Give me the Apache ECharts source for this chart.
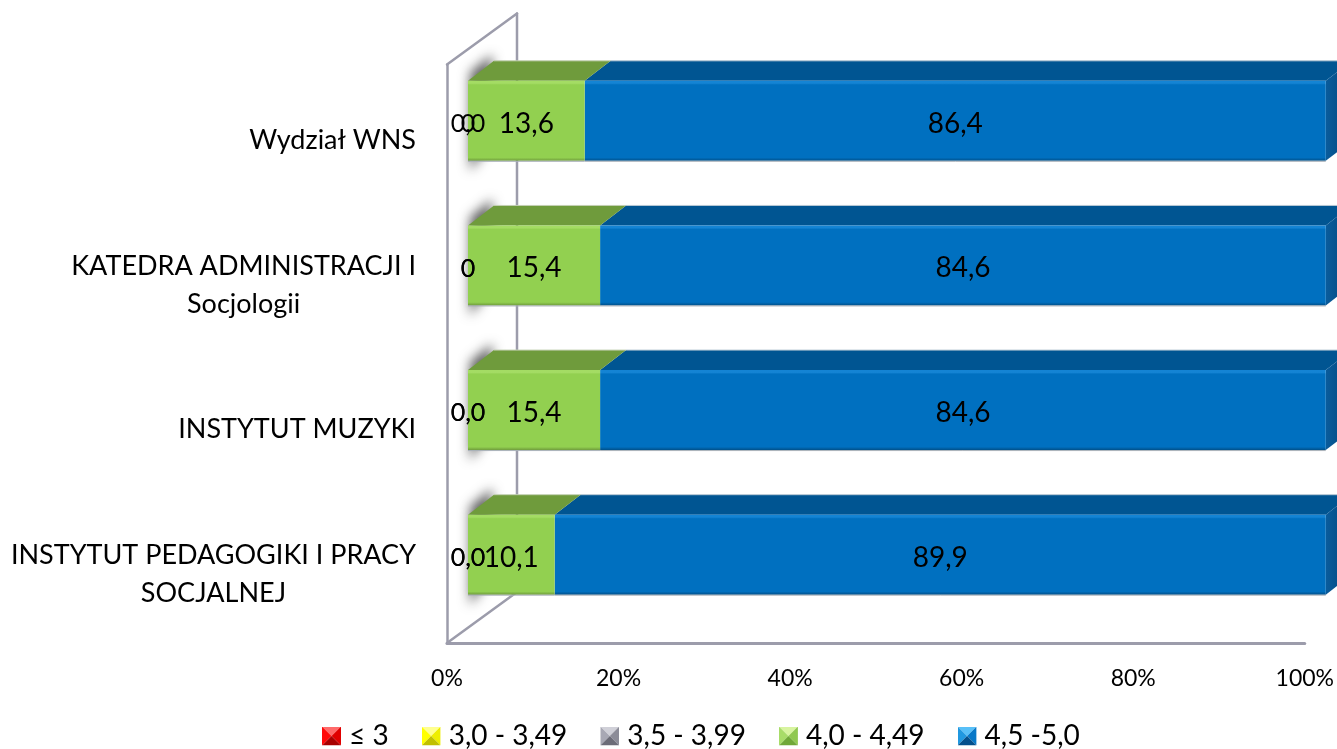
<!DOCTYPE html>
<html><head><meta charset="utf-8">
<style>html,body{margin:0;padding:0;background:#fff}#c{width:1337px;height:749px}</style>
<script src="https://cdn.jsdelivr.net/npm/echarts@6/dist/echarts.min.js"></script>
</head><body><div id="c"></div>
<script>
const categories = ['INSTYTUT PEDAGOGIKI I PRACY\nSOCJALNEJ','INSTYTUT MUZYKI','KATEDRA ADMINISTRACJI I\nSocjologii','Wydział WNS'];
const seriesNames = ['≤ 3','3,0 - 3,49','3,5 - 3,99','4,0 - 4,49','4,5 -5,0'];
const red    = [0,0,0,0];
const yellow = [0,0,0,0];
const gray   = [0,0,0,0];
const green  = [10.1,15.4,15.4,13.6];
const blue   = [89.9,84.6,84.6,86.4];
const redLabels    = ['0,0','0,0','0','0,0'];
const yellowLabels = ['0,0','0,0','0','0'];
const grayLabels   = ['','','',''];
const greenLabels  = ['10,1','15,4','15,4','13,6'];
const blueLabels   = ['89,9','84,6','84,6','86,4'];
const xTicks = [0,20,40,60,80,100];

const allValues=[red,yellow,gray,green,blue];
const allLabels=[redLabels,yellowLabels,grayLabels,greenLabels,blueLabels];
const FONT='Lato, Carlito, sans-serif';
const LINE='#9c9cab';
const F={dx:21,dy:-16};
const D={dx:26,dy:-20};
const WALL={dx:70,dy:-51};
const BAR=80;
const OFF=3000;
const palettes=[
 {front:'#e8101c',hi:'#f04a50',lo:'#a80d12',top:'#ab0c12',side:'#8c090d',icon:['#ff6a6a','#ff0808','#e00000','#a80000']},
 {front:'#ffff00',hi:'#ffff70',lo:'#cccc00',top:'#bcbc00',side:'#a8a800',icon:['#ffff90','#ffff00','#eeee00','#c0c000']},
 {front:'#8e8e9c',hi:'#a8a8b4',lo:'#6a6a78',top:'#6c6c78',side:'#5c5c68',icon:['#d0d0d8','#a8a8b4','#8c8c98','#6c6c78']},
 {front:'#92d050',hi:'#a4dc64',lo:'#6f9b3c',top:'#6f9b3c',side:'#5f8a32',icon:['#d8f4a0','#a8dc68','#90c850','#70a838']},
 {front:'#0070c0',hi:'#1484d4',lo:'#004f88',top:'#005592',side:'#00467c',icon:['#58c0f8','#2098e0','#0878c8','#04508c']}
];
function iconUri(c){
 const svg=`<svg xmlns="http://www.w3.org/2000/svg" width="19" height="19"><polygon points="0,0 19,0 9.5,9.5" fill="${c[0]}"/><polygon points="0,0 0,19 9.5,9.5" fill="${c[1]}"/><polygon points="19,0 19,19 9.5,9.5" fill="${c[2]}"/><polygon points="0,19 19,19 9.5,9.5" fill="${c[3]}"/></svg>`;
 return 'image://data:image/svg+xml;charset=utf-8,'+encodeURIComponent(svg);
}
function frontFill(p){
 return {type:'linear',x:0,y:0,x2:0,y2:1,colorStops:[
  {offset:0,color:p.hi},{offset:.03,color:p.hi},{offset:.05,color:p.front},
  {offset:.96,color:p.front},{offset:1,color:p.lo}]};
}
function barRender(si){
 return function(params,api){
  const c=api.value(1), v=api.value(0), s=api.value(2);
  const a=api.coord([s,c]), b=api.coord([s+v,c]);
  const x0=a[0]+F.dx, x1=b[0]+F.dx, cy=a[1]+F.dy, t=cy-BAR/2, bt=cy+BAR/2;
  const p=palettes[si], children=[];
  if(v>0){
   children.push({type:'polygon',shape:{points:[[x0,t],[x0+D.dx,t+D.dy],[x1+D.dx,t+D.dy],[x1,t]]},style:{fill:p.top}});
   if(si===4){
    children.push({type:'line',shape:{x1:x0+D.dx,y1:t+D.dy,x2:x1+D.dx,y2:t+D.dy},style:{stroke:'#b8c8d4',lineWidth:1}});
    children.push({type:'polygon',shape:{points:[[x1,t],[x1+D.dx,t+D.dy],[x1+D.dx,bt+D.dy],[x1,bt]]},
      style:{fill:{type:'linear',x:0,y:0,x2:1,y2:0,colorStops:[{offset:0,color:'#0a5c9c'},{offset:1,color:p.side}]}}});
   } else {
    children.push({type:'line',shape:{x1:x0+D.dx,y1:t+D.dy,x2:x1+D.dx,y2:t+D.dy},style:{stroke:'#c4d0b4',lineWidth:1}});
   }
   children.push({type:'rect',shape:{x:x0,y:t,width:x1-x0,height:BAR},style:{fill:frontFill(p)}});
   children.push({type:'line',shape:{x1:x0,y1:bt+.5,x2:x1,y2:bt+.5},style:{stroke:'#a8b0b8',lineWidth:1}});
  }
  const txt=allLabels[si][params.dataIndex];
  if(txt){
   children.push({type:'text',z2:50,style:{text:txt,x:(x0+x1)/2,y:cy+3,align:'center',verticalAlign:'middle',
     font:(v>0?'28px ':'25px ')+FONT,fill:'#000'}});
  }
  return {type:'group',children};
 };
}
function frameRender(params,api){
 const g=params.coordSys, c=api.value(0);
 const L=g.x, T=g.y, B=g.y+g.height;
 const children=[];
 if(params.dataIndex===0){
  const ln=(x1,y1,x2,y2)=>({type:'line',shape:{x1,y1,x2,y2},style:{stroke:LINE,lineWidth:2.5,lineCap:'round'}});
  children.push(ln(L,T,L+WALL.dx,T+WALL.dy));
  children.push(ln(L+WALL.dx,T+WALL.dy,L+WALL.dx,B+WALL.dy));
  children.push(ln(L,B,L+WALL.dx,B+WALL.dy));
 }
 const cy=api.coord([0,c])[1]+F.dy, t=cy-BAR/2, bt=cy+BAR/2, x=L+F.dx-OFF;
 // drawn off-canvas so only the soft, blurred shadow lands on the wall
 children.push({type:'polygon',shape:{points:[[x+2,t-8],[x+24,t-26],[x+24,bt-20],[x+2,bt+10]]},
   style:{fill:'#000',shadowBlur:12,shadowOffsetX:OFF,shadowColor:'rgba(85,85,85,.95)'}});
 return {type:'group',children};
}
const series=[{
  type:'custom',name:'__frame',silent:true,z:1,
  renderItem:frameRender,
  data:categories.map((_,i)=>[i]),
  encode:{y:0}
}];
const zOrder=[20,21,22,5,4];
allValues.forEach((vals,si)=>{
  series.push({
   type:'custom',name:seriesNames[si],z:zOrder[si],
   itemStyle:{color:palettes[si].front},
   renderItem:barRender(si),
   encode:{x:0,y:1},
   data:vals.map((v,i)=>{
     let s=0; for(let k=0;k<si;k++) s+=allValues[k][i];
     return [v,i,s];
   })
  });
});
const chart=echarts.init(document.getElementById('c'),null,{renderer:'canvas'});
chart.setOption({
 animation:false,
 backgroundColor:'#fff',
 grid:{left:447,top:64.5,width:859,height:578.5,containLabel:false},
 xAxis:{type:'value',min:0,max:100,interval:20,
  axisLine:{show:true,lineStyle:{color:LINE,width:3}},axisTick:{show:false},splitLine:{show:false},
  axisLabel:{margin:24,fontFamily:FONT,fontSize:23,color:'#000',formatter:v=>xTicks.includes(v)?v+'%':''}},
 yAxis:{type:'category',data:categories,
  axisLine:{show:true,onZero:false,lineStyle:{color:LINE,width:2.5}},axisTick:{show:false},
  axisLabel:{margin:31,fontFamily:FONT,fontSize:27,color:'#000',lineHeight:38,interval:0,padding:[7,0,0,0],
   formatter:v=>v.split('\n').map(l=>'{c|'+l+'}').join('\n'),
   rich:{c:{align:'center',fontFamily:FONT,fontSize:27,color:'#000',lineHeight:38}}}},
 legend:{left:322,top:722,padding:0,orient:'horizontal',itemWidth:19,itemHeight:19,itemGap:33,
  textStyle:{fontFamily:FONT,fontSize:28,color:'#000',padding:[0,0,0,3]},
  data:seriesNames.map((n,i)=>({name:n,icon:iconUri(palettes[i].icon)}))},
 series
});
</script></body></html>
